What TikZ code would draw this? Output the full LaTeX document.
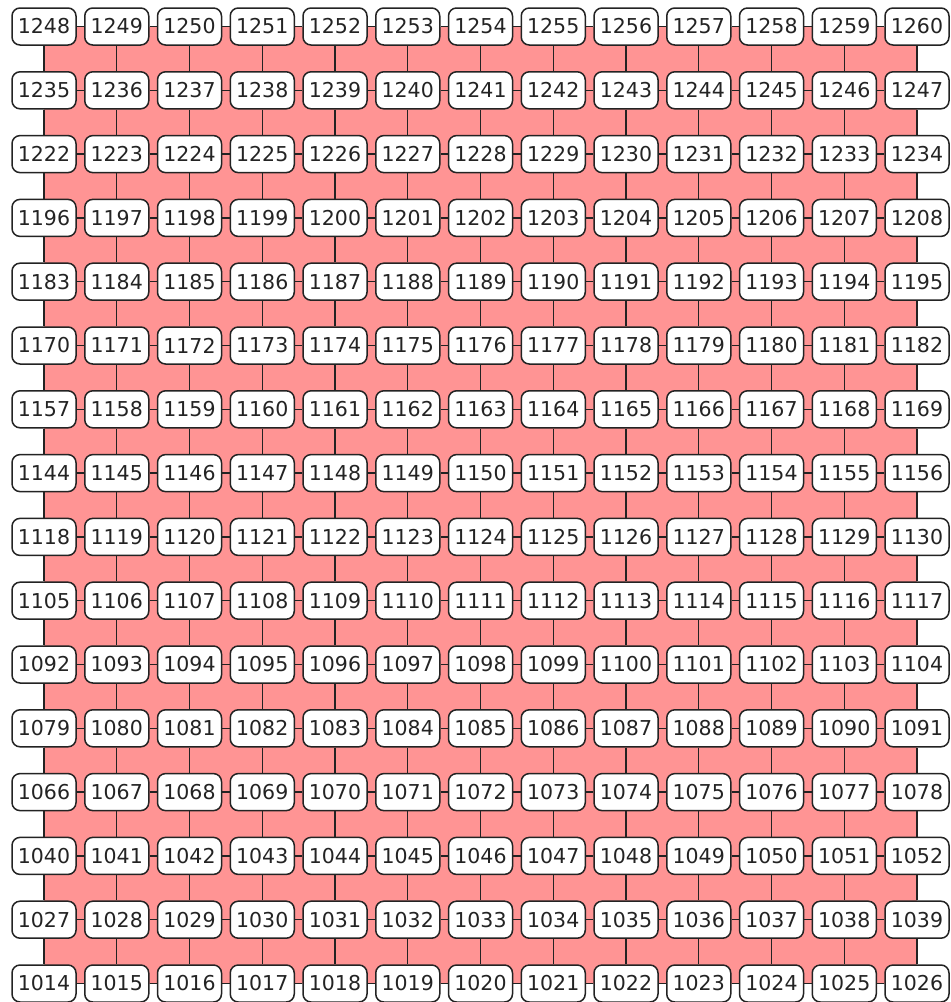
\documentclass[tikz,border=0pt]{standalone}
\usepackage{fontspec}
\setmainfont{DejaVu Sans}
\usetikzlibrary{backgrounds}
\definecolor{pinkbg}{RGB}{255,148,148}
\definecolor{ink}{RGB}{35,35,35}
\tikzset{
  cell/.style={draw=ink, line width=1.5pt, fill=white, rounded corners=8pt,
    minimum width=64pt, minimum height=37pt, inner sep=0pt,
    font=\fontsize{20.5}{21}\selectfont, text=ink},
  link/.style={draw=ink, line width=1.3pt}
}
\begin{document}
\begin{tikzpicture}[x=1pt,y=1pt]
\useasboundingbox (0,0) rectangle (951,-1002);
\foreach \s [count=\r from 0] in {1248,1235,1222,1196,1183,1170,1157,1144,1118,1105,1092,1079,1066,1040,1027,1014}{
  \foreach \c in {0,...,12}{
    \pgfmathtruncatemacro\lab{\s+\c}
    \node[cell] (n\lab) at ({44+\c*72.75},{-26.5-\r*63.8}) {\lab};
  }
}
\begin{scope}[on background layer]
  \fill[pinkbg] (n1248.center) rectangle (n1026.center);
\end{scope}
\foreach \s in {1248,1235,1222,1196,1183,1170,1157,1144,1118,1105,1092,1079,1066,1040,1027,1014}{
  \foreach \c in {0,...,11}{
    \pgfmathtruncatemacro\a{\s+\c}
    \pgfmathtruncatemacro\b{\s+\c+1}
    \draw[link] (n\a) -- (n\b);
  }
}
\foreach \s/\t in {1248/1235,1235/1222,1222/1196,1196/1183,1183/1170,1170/1157,1157/1144,1144/1118,1118/1105,1105/1092,1092/1079,1079/1066,1066/1040,1040/1027,1027/1014}{
  \foreach \c in {0,...,12}{
    \pgfmathtruncatemacro\a{\s+\c}
    \pgfmathtruncatemacro\b{\t+\c}
    \draw[link] (n\a) -- (n\b);
  }
}
\end{tikzpicture}
\end{document}
